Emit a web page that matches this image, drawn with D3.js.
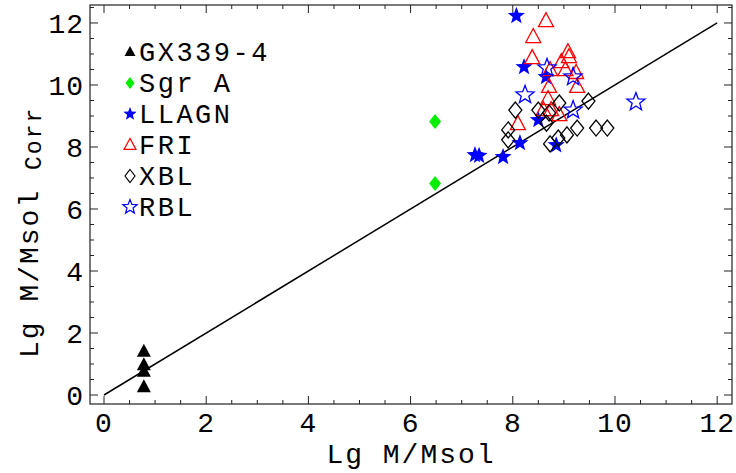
<!DOCTYPE html>
<html>
<head>
<meta charset="utf-8">
<script src="https://cdn.jsdelivr.net/npm/d3@7"></script>
<style>
  body { margin: 0; background: #fff; }
  text { font-family: "Liberation Mono", "DejaVu Sans Mono", monospace; fill: #000; }
</style>
</head>
<body>
<div id="chart"></div>
<script>
// data, [lg M, lg M corr]
const gx339 = [[0.78, 1.40], [0.78, 0.97], [0.78, 0.76], [0.78, 0.26]];
const sgrA = [[6.48, 8.82], [6.48, 6.82]];
const llagn = [[8.07, 12.23], [8.22, 10.58], [8.65, 10.26], [8.50, 8.87], [8.14, 8.13],
  [7.81, 7.68], [8.85, 8.06], [7.26, 7.74], [7.34, 7.72]];
const fri = [[8.65, 12.06], [8.40, 11.55], [8.38, 10.87], [9.08, 11.06], [9.10, 10.90],
  [8.95, 10.74], [9.03, 10.48], [8.73, 10.48], [9.24, 10.39], [9.26, 9.94], [8.71, 9.94],
  [8.69, 9.55], [8.60, 9.19], [8.75, 9.19], [8.91, 9.03], [8.10, 8.74]];
const xbl = [[8.05, 9.19], [8.50, 9.19], [8.71, 9.10], [8.91, 9.42], [9.48, 9.48],
  [8.66, 8.77], [7.91, 8.55], [7.91, 8.23], [8.73, 8.10], [8.89, 8.29], [9.06, 8.39],
  [9.26, 8.61], [9.63, 8.61], [9.85, 8.61]];
const rbl = [[8.67, 10.55], [9.18, 10.26], [8.24, 9.68], [9.18, 9.19], [10.41, 9.45]];
const legendNames = ["GX339-4", "Sgr A", "LLAGN", "FRI", "XBL", "RBL"];
const xTicks = [0, 2, 4, 6, 8, 10, 12];
const yTicks = [0, 2, 4, 6, 8, 10, 12];

const width = 736, height = 473;
const mLeft = 90, mRight = 732, mTop = 5, mBottom = 404;

const svg = d3.select('#chart').append('svg')
  .attr('width', width)
  .attr('height', height);

const x = d3.scaleLinear().domain([-0.274, 12.29]).range([mLeft, mRight]);
const y = d3.scaleLinear().domain([-0.29, 12.58]).range([mBottom, mTop]);

// marker shapes, sizes in px
function triangle(w, h) {
  return 'M0,' + (-h * 0.6) + 'L' + (w / 2) + ',' + (h * 0.4) + 'L' + (-w / 2) + ',' + (h * 0.4) + 'Z';
}
function diamond(w, h) {
  return 'M0,' + (-h / 2) + 'L' + (w / 2) + ',0L0,' + (h / 2) + 'L' + (-w / 2) + ',0Z';
}
function star(r) {
  let p = [];
  for (let i = 0; i < 10; i++) {
    let rr = i % 2 == 0 ? r : r * 0.42;
    let a = -Math.PI / 2 + i * Math.PI / 5;
    p.push([rr * Math.cos(a), rr * Math.sin(a)]);
  }
  return 'M' + p.map(d => d[0].toFixed(2) + ',' + d[1].toFixed(2)).join('L') + 'Z';
}

const series = [
  { data: gx339, path: triangle(14, 13), fill: '#000', stroke: 'none' },
  { data: sgrA, path: diamond(12, 15), fill: '#00ee00', stroke: 'none' },
  { data: llagn, path: star(9), fill: '#0000ff', stroke: 'none' },
  { data: fri, path: triangle(15, 14), fill: 'none', stroke: '#ff0000' },
  { data: xbl, path: diamond(13, 16), fill: 'none', stroke: '#000' },
  { data: rbl, path: star(9.5), fill: 'none', stroke: '#0000ff' }
];
const legendPaths = [triangle(11, 10), diamond(9, 12), star(7), triangle(12, 11), diamond(10, 13), star(7.5)];

// frame
svg.append('rect')
  .attr('x', mLeft).attr('y', mTop)
  .attr('width', mRight - mLeft).attr('height', mBottom - mTop)
  .attr('fill', 'none').attr('stroke', '#222').attr('stroke-width', 1.2);

// ticks on all four sides, pointing in
const minorX = d3.range(0, 12.01, 0.5);
const minorY = d3.range(0, 12.51, 0.5);
const tickG = svg.append('g').attr('stroke', '#222').attr('stroke-width', 1);
minorX.forEach(function (v) {
  let len = v % 2 == 0 ? 8 : 4;
  tickG.append('line').attr('x1', x(v)).attr('x2', x(v)).attr('y1', mBottom).attr('y2', mBottom - len);
  tickG.append('line').attr('x1', x(v)).attr('x2', x(v)).attr('y1', mTop).attr('y2', mTop + len);
});
minorY.forEach(function (v) {
  let len = v % 2 == 0 ? 8 : 4;
  tickG.append('line').attr('y1', y(v)).attr('y2', y(v)).attr('x1', mLeft).attr('x2', mLeft + len);
  tickG.append('line').attr('y1', y(v)).attr('y2', y(v)).attr('x1', mRight).attr('x2', mRight - len);
});

svg.selectAll('.xt')
  .data(xTicks)
  .enter()
  .append('text')
  .attr('class', 'xt')
  .attr('x', d => x(d))
  .attr('y', 432)
  .attr('text-anchor', 'middle')
  .attr('font-size', 28)
  .attr('letter-spacing', 1)
  .text(d => d);

svg.selectAll('.yt')
  .data(yTicks)
  .enter()
  .append('text')
  .attr('class', 'yt')
  .attr('x', 84)
  .attr('y', d => y(d) + 10)
  .attr('text-anchor', 'end')
  .attr('font-size', 28)
  .attr('letter-spacing', 1)
  .text(d => d);

// axis labels
svg.append('text')
  .attr('x', 411).attr('y', 463)
  .attr('text-anchor', 'middle')
  .attr('font-size', 28)
  .attr('letter-spacing', 2)
  .text('Lg M/Msol');

const yl = svg.append('text')
  .attr('transform', 'translate(38,358) rotate(-90)')
  .attr('font-size', 28)
  .attr('letter-spacing', 2);
yl.append('tspan').text('Lg M/Msol ');
yl.append('tspan').attr('font-size', 23).attr('dy', 3).text('Corr');

// y = x line
svg.append('line')
  .attr('x1', x(0)).attr('y1', y(0))
  .attr('x2', x(12)).attr('y2', y(12))
  .attr('stroke', '#000').attr('stroke-width', 1.5);

// points
series.forEach(function (s, k) {
  svg.selectAll('.s' + k)
    .data(s.data)
    .enter()
    .append('path')
    .attr('class', 's' + k)
    .attr('d', s.path)
    .attr('transform', d => 'translate(' + x(d[0]) + ',' + y(d[1]) + ')')
    .attr('fill', s.fill)
    .attr('stroke', s.stroke)
    .attr('stroke-width', 1.3);
});

// legend
const lg = svg.append('g');
legendNames.forEach(function (name, i) {
  let cy = 52 + i * 31;
  lg.append('path')
    .attr('d', legendPaths[i])
    .attr('transform', 'translate(130,' + cy + ')')
    .attr('fill', series[i].fill)
    .attr('stroke', series[i].stroke)
    .attr('stroke-width', 1.2);
  lg.append('text')
    .attr('x', 139)
    .attr('y', cy + 9)
    .attr('font-size', 27)
    .attr('letter-spacing', 2.5)
    .text(name);
});
</script>
</body>
</html>
